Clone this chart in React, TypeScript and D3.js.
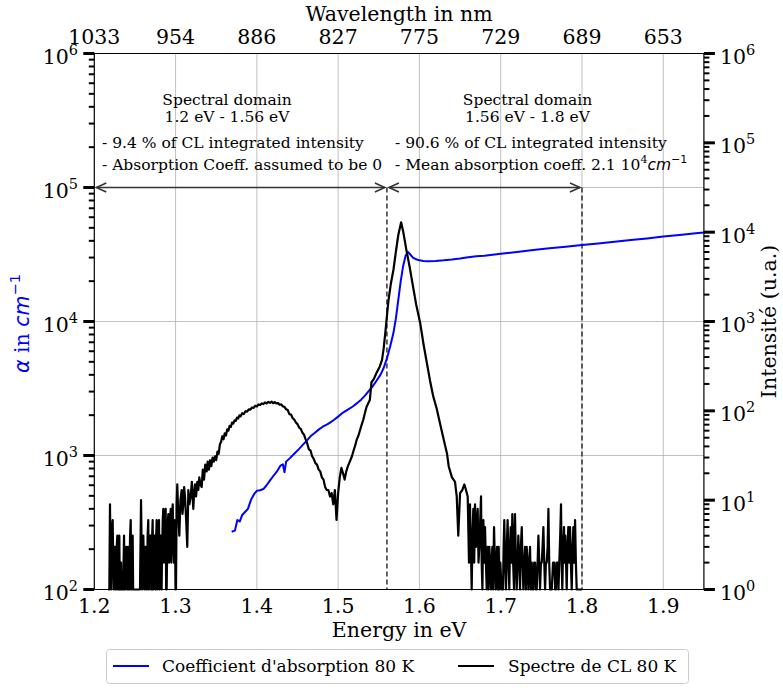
import React from 'react';
import * as d3 from 'd3';

// ---------- data ----------
const energyTicks = [1.2, 1.3, 1.4, 1.5, 1.6, 1.7, 1.8, 1.9];
const wavelengthTickLabels = ['1033', '954', '886', '827', '775', '729', '689', '653'];
const alphaExponents = [2, 3, 4, 5, 6];
const intensityExponents = [0, 1, 2, 3, 4, 5, 6];
const domainBounds = [1.2, 1.56, 1.8];

// absorption coefficient alpha (cm^-1) vs energy (eV)
const absorption: [number, number][] = [
  [1.369, 270], [1.373, 275], [1.376, 330], [1.379, 322], [1.382, 360], [1.386, 382], [1.389, 400],
  [1.393, 470], [1.397, 520], [1.400, 545], [1.404, 550], [1.408, 562], [1.412, 600], [1.416, 650],
  [1.420, 700], [1.425, 765], [1.429, 840], [1.432, 860], [1.434, 750], [1.436, 900], [1.441, 960],
  [1.446, 1030], [1.452, 1120], [1.457, 1210], [1.462, 1300], [1.466, 1390], [1.471, 1470],
  [1.476, 1560], [1.481, 1640], [1.486, 1700], [1.490, 1760], [1.495, 1850], [1.500, 1950],
  [1.506, 2090], [1.512, 2200], [1.518, 2320], [1.523, 2450], [1.528, 2600], [1.533, 2800],
  [1.537, 3000], [1.542, 3250], [1.547, 3600], [1.552, 4000], [1.556, 4500], [1.560, 5300],
  [1.564, 6500], [1.568, 8200], [1.571, 10500], [1.574, 14500], [1.577, 20000], [1.580, 26000],
  [1.583, 31000], [1.586, 33000], [1.589, 31500], [1.592, 30000], [1.595, 29300], [1.600, 28600],
  [1.605, 28300], [1.610, 28200], [1.620, 28300], [1.630, 28600], [1.640, 29000], [1.650, 29500],
  [1.660, 30200], [1.670, 30700], [1.680, 31000], [1.690, 31500], [1.700, 32000], [1.720, 33000],
  [1.740, 34200], [1.760, 35200], [1.780, 36200], [1.800, 37200], [1.820, 38200], [1.840, 39300],
  [1.860, 40500], [1.880, 41700], [1.900, 43000], [1.920, 44300], [1.940, 45500], [1.950, 46200],
];

// CL spectrum (counts) vs energy (eV)
const clLowNoise: [number, number][] = [
  [1.2170, 1], [1.2185, 1], [1.2193, 9], [1.2200, 2], [1.2208, 1], [1.2218, 5], [1.2226, 6],
  [1.2233, 2], [1.2240, 1], [1.2248, 3], [1.2255, 3], [1.2262, 1], [1.2268, 1], [1.2276, 3],
  [1.2283, 4], [1.2290, 1], [1.2296, 1], [1.2302, 3], [1.2308, 4], [1.2313, 1], [1.2318, 1],
  [1.2324, 2], [1.2329, 2], [1.2335, 1], [1.2342, 1], [1.2355, 1], [1.2360, 2], [1.2366, 4],
  [1.2373, 1], [1.2380, 1], [1.2390, 3], [1.2399, 3], [1.2404, 1], [1.2409, 1], [1.2414, 2],
  [1.2419, 3], [1.2425, 1], [1.2432, 1], [1.2440, 4], [1.2448, 6], [1.2454, 1], [1.2460, 1],
  [1.2466, 3], [1.2472, 4], [1.2478, 1], [1.2485, 1], [1.2510, 1], [1.2540, 1], [1.2562, 1],
  [1.2575, 10], [1.2582, 3], [1.2589, 1], [1.2596, 2], [1.2603, 4], [1.2610, 2], [1.2617, 1],
  [1.2625, 3], [1.2632, 3], [1.2640, 1], [1.2648, 1], [1.2656, 4], [1.2664, 6], [1.2671, 1],
  [1.2678, 2], [1.2686, 4], [1.2694, 4], [1.2700, 1], [1.2706, 1], [1.2712, 4], [1.2718, 6],
  [1.2725, 1], [1.2732, 2], [1.2740, 4], [1.2747, 4], [1.2752, 1], [1.2757, 2], [1.2762, 4],
  [1.2767, 6], [1.2774, 1], [1.2781, 3], [1.2788, 5], [1.2796, 6], [1.2802, 1], [1.2808, 2],
  [1.2815, 4], [1.2821, 4], [1.2828, 1], [1.2835, 3], [1.2842, 6], [1.2849, 8], [1.2855, 2],
  [1.2862, 3], [1.2870, 7], [1.2878, 8], [1.2884, 1], [1.2890, 1], [1.2900, 5], [1.2911, 7],
  [1.2918, 2], [1.2925, 3], [1.2932, 6], [1.2940, 8], [1.2946, 2], [1.2952, 4], [1.2958, 7],
  [1.2965, 9], [1.2972, 3], [1.2979, 2], [1.2986, 6], [1.2993, 5], [1.2999, 1], [1.3005, 1],
  [1.3013, 9], [1.3021, 15], [1.3033, 7],
];
const clBand: [number, number][] = [
  [1.3046, 4], [1.3060, 10], [1.3075, 13], [1.3085, 7], [1.3095, 9], [1.3105, 14], [1.3116, 11],
  [1.3130, 6], [1.3144, 3], [1.3157, 13], [1.3170, 9], [1.3186, 11], [1.3200, 16], [1.3218, 8],
  [1.3228, 12], [1.3239, 15], [1.3252, 11], [1.3267, 16], [1.3280, 13], [1.3292, 18], [1.3305, 15],
  [1.3321, 14], [1.3335, 22], [1.3350, 17], [1.3365, 25], [1.3383, 21], [1.3395, 27], [1.3410, 22],
  [1.3425, 28], [1.3440, 24], [1.3455, 30], [1.3470, 27], [1.3485, 31], [1.3500, 28], [1.3515, 35],
  [1.3530, 33], [1.3545, 42], [1.3560, 45], [1.3575, 52], [1.3590, 48], [1.3605, 56], [1.3620, 53],
  [1.3635, 62], [1.3650, 60], [1.3665, 68], [1.3680, 66], [1.3695, 74], [1.3710, 72], [1.3725, 78],
  [1.3740, 77], [1.3755, 84], [1.3770, 82], [1.3785, 89], [1.3800, 87], [1.3820, 94], [1.3840, 92],
  [1.3860, 99], [1.3880, 98], [1.3900, 104], [1.3920, 103], [1.3940, 109], [1.3960, 108],
  [1.3980, 114], [1.4000, 112], [1.4020, 118], [1.4040, 116], [1.4060, 121], [1.4080, 119],
  [1.4100, 124], [1.4120, 121], [1.4140, 126], [1.4160, 123], [1.4180, 127], [1.4200, 122],
  [1.4220, 125], [1.4240, 121], [1.4260, 122], [1.4280, 117], [1.4300, 118], [1.4320, 112],
  [1.4340, 111], [1.4360, 104], [1.4380, 102], [1.4400, 92], [1.4420, 91], [1.4440, 83],
  [1.4460, 80], [1.4480, 74], [1.4500, 71], [1.4520, 65], [1.4540, 63], [1.4560, 57], [1.4580, 54],
  [1.4600, 48], [1.4620, 43], [1.4640, 37], [1.4660, 36], [1.4680, 31], [1.4700, 29], [1.4720, 26],
  [1.4740, 25], [1.4760, 22], [1.4780, 21], [1.4800, 18], [1.4820, 17], [1.4840, 14], [1.4860, 13],
  [1.4880, 13], [1.4900, 11], [1.4920, 12], [1.4940, 9], [1.4960, 13], [1.4980, 6], [1.5000, 12],
  [1.5020, 18], [1.5040, 23], [1.5060, 20], [1.5080, 17], [1.5100, 21], [1.5120, 24], [1.5150, 28],
  [1.5170, 31], [1.5190, 36], [1.5210, 41], [1.5230, 48], [1.5250, 53], [1.5270, 61], [1.5290, 70],
  [1.5310, 80], [1.5330, 95], [1.5350, 111],
];
const clPeak: [number, number][] = [
  [1.5390, 132], [1.5410, 209], [1.5440, 228], [1.5470, 263], [1.5510, 310], [1.5540, 372],
  [1.5560, 500], [1.5580, 741], [1.5600, 1150], [1.5620, 1740], [1.5650, 2700], [1.5680, 3770],
  [1.5710, 6000], [1.5740, 9300], [1.5775, 12900], [1.5800, 10200], [1.5840, 6300], [1.5880, 4070],
  [1.5920, 2500], [1.5960, 1550], [1.6010, 955], [1.6050, 560], [1.6090, 350], [1.6130, 219],
  [1.6170, 145], [1.6210, 108], [1.6260, 68], [1.6310, 43], [1.6340, 33], [1.6360, 24], [1.6400, 18],
];
const clHighNoise: [number, number][] = [
  [1.6438, 16], [1.6459, 11], [1.6478, 4], [1.6500, 12], [1.6528, 13], [1.6553, 15], [1.6573, 13],
  [1.6594, 11], [1.6610, 2], [1.6622, 9], [1.6633, 3], [1.6643, 1], [1.6653, 4], [1.6663, 8],
  [1.6674, 2], [1.6684, 9], [1.6696, 3], [1.6706, 5], [1.6717, 8], [1.6727, 2], [1.6737, 3],
  [1.6748, 6], [1.6758, 11], [1.6766, 2], [1.6775, 1], [1.6781, 3], [1.6787, 6], [1.6797, 2],
  [1.6807, 5], [1.6818, 2], [1.6828, 1], [1.6834, 2], [1.6840, 3], [1.6850, 1], [1.6860, 3],
  [1.6870, 2], [1.6881, 1], [1.6889, 2], [1.6897, 3], [1.6907, 1], [1.6918, 5], [1.6928, 2],
  [1.6939, 1], [1.6947, 2], [1.6955, 3], [1.6965, 1], [1.6975, 3], [1.6985, 1], [1.6995, 2],
  [1.7012, 1], [1.7028, 1], [1.7036, 3], [1.7044, 6], [1.7055, 2], [1.7065, 1], [1.7075, 3],
  [1.7085, 6], [1.7095, 2], [1.7106, 1], [1.7114, 3], [1.7123, 5], [1.7133, 2], [1.7143, 7],
  [1.7153, 2], [1.7164, 1], [1.7170, 4], [1.7176, 7], [1.7187, 2], [1.7197, 1], [1.7207, 2],
  [1.7217, 4], [1.7228, 2], [1.7238, 1], [1.7248, 3], [1.7259, 5], [1.7269, 2], [1.7279, 1],
  [1.7290, 2], [1.7300, 3], [1.7310, 1], [1.7320, 3], [1.7330, 2], [1.7341, 1], [1.7351, 2],
  [1.7361, 3], [1.7371, 1], [1.7382, 2], [1.7392, 1], [1.7402, 1], [1.7412, 2], [1.7423, 2],
  [1.7433, 1], [1.7443, 1], [1.7454, 2], [1.7464, 4], [1.7474, 2], [1.7484, 1], [1.7495, 2],
  [1.7505, 2], [1.7515, 3], [1.7525, 5], [1.7536, 2], [1.7546, 1], [1.7556, 2], [1.7566, 2],
  [1.7577, 3], [1.7587, 8], [1.7597, 2], [1.7607, 1], [1.7628, 1], [1.7644, 2], [1.7660, 2],
  [1.7670, 1], [1.7680, 1], [1.7690, 2], [1.7701, 2], [1.7711, 1], [1.7721, 2], [1.7732, 4],
  [1.7742, 9], [1.7750, 2], [1.7758, 1], [1.7768, 3], [1.7779, 5], [1.7787, 2], [1.7795, 4],
  [1.7804, 2], [1.7812, 1], [1.7822, 3], [1.7832, 5], [1.7842, 2], [1.7853, 5], [1.7863, 2],
  [1.7874, 1], [1.7884, 3], [1.7894, 5], [1.7904, 2], [1.7915, 6], [1.7925, 2], [1.7935, 1],
  [1.7956, 1], [1.7980, 1], [1.8000, 1],
];

// ---------- layout ----------
const W = 783;
const H = 688;
const PL = 94.3, PR = 703.9, PT = 53.5, PB = 589.5;
const SERIF = "'DejaVu Serif', serif";
const SANS = "'DejaVu Sans', sans-serif";
const TICK_FS = 20.5;
const ANN_FS = 15.5;

function Pow({ base, exp, ...rest }: any) {
  return (
    <text fontFamily={SERIF} fontSize={TICK_FS} {...rest}>
      {base}
      <tspan dy={-9} fontSize={14.5}>{exp}</tspan>
    </text>
  );
}

export default function App() {
  const x = d3.scaleLinear().domain([1.2, 1.95]).range([PL, PR]);
  const yL = d3.scaleLog().domain([1e2, 1e6]).range([PB, PT]);
  const yR = d3.scaleLog().domain([1, 1e6]).range([PB, PT]).clamp(true);
  const lineL = d3.line<[number, number]>().x(d => x(d[0])).y(d => yL(d[1]));
  const lineR = d3.line<[number, number]>().x(d => x(d[0])).y(d => yR(d[1]));
  const cl = [...clLowNoise, ...clBand, ...clPeak, ...clHighNoise];

  const minorOf = (exps: number[]) =>
    exps.slice(0, -1).flatMap(e => d3.range(2, 10).map(k => k * Math.pow(10, e)));
  const leftMinor = minorOf(alphaExponents);
  const rightMinor = minorOf(intensityExponents);

  const arrowY = yL(1e5);
  const arrowColor = '#333';
  const head = (xt: number, dir: number) =>
    `M${xt - dir * 10},${arrowY - 4.5} L${xt},${arrowY} L${xt - dir * 10},${arrowY + 4.5}`;
  const segments = [
    [domainBounds[0], domainBounds[1]],
    [domainBounds[1], domainBounds[2]],
  ];

  return (
    <svg width={W} height={H} style={{ position: 'absolute', left: 0, top: 0, background: '#fff' }}>
      <rect x={0} y={0} width={W} height={H} fill="#fff" />
      {/* grid */}
      <g stroke="#b0b0b0" strokeWidth={0.8}>
        {energyTicks.slice(1).map(e => (
          <line key={'gx' + e} x1={x(e)} x2={x(e)} y1={PT} y2={PB} />
        ))}
        {alphaExponents.slice(1, -1).map(p => (
          <line key={'gy' + p} x1={PL} x2={PR} y1={yL(Math.pow(10, p))} y2={yL(Math.pow(10, p))} />
        ))}
      </g>

      {/* dashed domain limits */}
      {domainBounds.slice(1).map(e => (
        <line key={'d' + e} x1={x(e)} x2={x(e)} y1={arrowY} y2={PB} stroke={arrowColor}
          strokeWidth={1.5} strokeDasharray="5,3" />
      ))}

      {/* arrows */}
      <g stroke={arrowColor} strokeWidth={1.5} fill="none">
        {segments.map(([a, b], i) => (
          <g key={'ar' + i}>
            <line x1={x(a) + 2} x2={x(b) - 2} y1={arrowY} y2={arrowY} />
            <path d={head(x(a) + 2, -1)} />
            <path d={head(x(b) - 2, 1)} />
          </g>
        ))}
      </g>

      {/* data */}
      <path d={lineL(absorption) || ''} fill="none" stroke="#0000ff" strokeWidth={2} strokeLinejoin="round" />
      <path d={lineR(cl) || ''} fill="none" stroke="#000" strokeWidth={2.2} strokeLinejoin="round" />

      {/* spines */}
      <g stroke="#000" strokeWidth={1.2} fill="none">
        <line x1={PL} x2={PR} y1={PT} y2={PT} />
        <line x1={PL} x2={PR} y1={PB} y2={PB} />
        <line x1={PL} x2={PL} y1={PT} y2={PB} />
        <line x1={PR} x2={PR} y1={PT} y2={PB} />
      </g>

      {/* ticks */}
      <g stroke="#000">
        {alphaExponents.map(p => (
          <line key={'lt' + p} x1={PL - 11} x2={PL} y1={yL(Math.pow(10, p))} y2={yL(Math.pow(10, p))} strokeWidth={3} />
        ))}
        {leftMinor.map(v => (
          <line key={'lm' + v} x1={PL - 5.5} x2={PL} y1={yL(v)} y2={yL(v)} strokeWidth={2} />
        ))}
        {intensityExponents.map(p => (
          <line key={'rt' + p} x1={PR} x2={PR + 11} y1={yR(Math.pow(10, p))} y2={yR(Math.pow(10, p))} strokeWidth={3} />
        ))}
        {rightMinor.map(v => (
          <line key={'rm' + v} x1={PR} x2={PR + 5.5} y1={yR(v)} y2={yR(v)} strokeWidth={2} />
        ))}
      </g>

      {/* tick labels */}
      {alphaExponents.map(p => (
        <Pow key={'ll' + p} base="10" exp={p} x={78} y={yL(Math.pow(10, p)) + 10.5} textAnchor="end" />
      ))}
      {intensityExponents.map(p => (
        <Pow key={'rl' + p} base="10" exp={p} x={720} y={yR(Math.pow(10, p)) + 10.5} />
      ))}
      {energyTicks.map(e => (
        <text key={'bl' + e} x={x(e)} y={613} textAnchor="middle" fontFamily={SERIF} fontSize={TICK_FS}>
          {e.toFixed(1)}
        </text>
      ))}
      {energyTicks.map((e, i) => (
        <text key={'tl' + e} x={x(e)} y={43.5} textAnchor="middle" fontFamily={SERIF} fontSize={TICK_FS}>
          {wavelengthTickLabels[i]}
        </text>
      ))}

      {/* axis titles */}
      <text x={(PL + PR) / 2} y={21} textAnchor="middle" fontFamily={SERIF} fontSize={TICK_FS}>
        Wavelength in nm
      </text>
      <text x={(PL + PR) / 2} y={637} textAnchor="middle" fontFamily={SERIF} fontSize={TICK_FS}>
        Energy in eV
      </text>
      <text transform={`translate(29,${(PT + PB) / 2 + 2}) rotate(-90)`} textAnchor="middle"
        fontFamily={SERIF} fontSize={TICK_FS} fill="#0000ff">
        <tspan fontFamily={SANS} fontStyle="italic">α</tspan>
        {' in '}
        <tspan fontFamily={SANS} fontStyle="italic">cm</tspan>
        <tspan fontFamily={SANS} dy={-9} fontSize={14.5}>−1</tspan>
      </text>
      <text transform={`translate(776,${(PT + PB) / 2}) rotate(-90)`} textAnchor="middle"
        fontFamily={SERIF} fontSize={TICK_FS}>
        Intensité (u.a.)
      </text>

      {/* annotations */}
      <g fontFamily={SERIF} fontSize={ANN_FS} fill="#000">
        <text x={227} y={105} textAnchor="middle">Spectral domain</text>
        <text x={227} y={121.5} textAnchor="middle">1.2 eV - 1.56 eV</text>
        <text x={102} y={148}>- 9.4 % of CL integrated intensity</text>
        <text x={102} y={170}>- Absorption Coeff. assumed to be 0</text>
        <text x={527.5} y={105} textAnchor="middle">Spectral domain</text>
        <text x={527.5} y={121.5} textAnchor="middle">1.56 eV - 1.8 eV</text>
        <text x={395} y={148}>- 90.6 % of CL integrated intensity</text>
        <text x={395} y={170}>
          - Mean absorption coeff. 2.1 10
          <tspan dy={-7} fontSize={11}>4</tspan>
          <tspan dy={7} fontFamily={SANS} fontStyle="italic">cm</tspan>
          <tspan dy={-7} fontFamily={SANS} fontSize={11}>−1</tspan>
        </text>
      </g>

      {/* legend */}
      <rect x={106.5} y={649.5} width={582} height={34} rx={3} fill="#fff" stroke="#cccccc" strokeWidth={1} />
      <line x1={113} x2={149} y1={666} y2={666} stroke="#0000ff" strokeWidth={2} />
      <text x={162} y={672} fontFamily={SERIF} fontSize={17}>Coefficient d'absorption 80 K</text>
      <line x1={458} x2={494} y1={666} y2={666} stroke="#000" strokeWidth={2} />
      <text x={508} y={672} fontFamily={SERIF} fontSize={17}>Spectre de CL 80 K</text>
    </svg>
  );
}
